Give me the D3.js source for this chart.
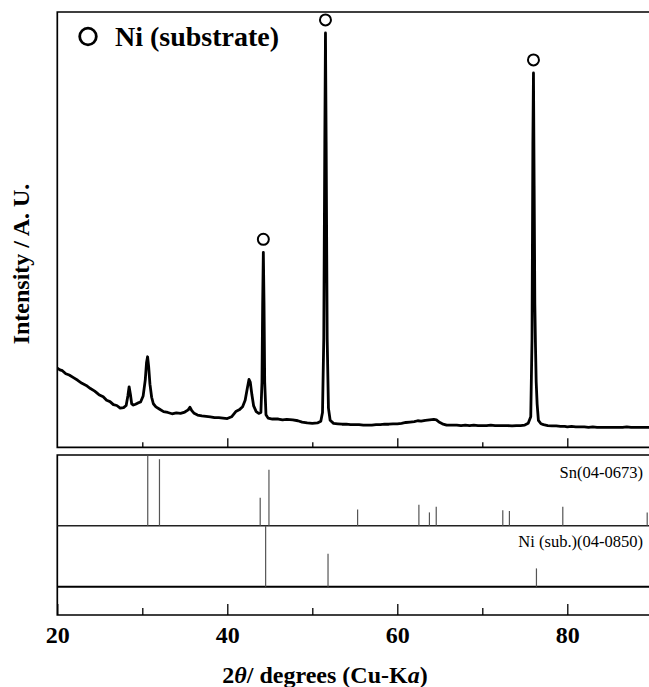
<!DOCTYPE html>
<html>
<head>
<meta charset="utf-8">
<script src="https://cdn.jsdelivr.net/npm/d3@7"></script>
<style>
    body { margin: 0; background: #fff; }
    svg { display: block; }
    .frame { fill: none; stroke: #000; stroke-width: 1.7; }
    .tick line { stroke: #000; stroke-width: 1.3; }
    .stick { stroke: #555; stroke-width: 1.2; }
</style>
</head>
<body>
<div id="chart"></div>
<script>

// measured XRD pattern (2theta in degrees, intensity in arbitrary units)
var twoTheta = [20.0, 20.3, 20.6, 21.0, 21.4, 21.9, 22.4, 22.9, 23.4, 23.9, 24.4, 24.9, 25.4, 25.8, 26.2, 26.6, 27.0, 27.4, 27.8,
    28.1, 28.3, 28.45, 28.6, 28.75, 28.95, 29.2, 29.5, 29.8, 30.1, 30.35, 30.5, 30.62, 30.75, 30.9, 31.1, 31.3, 31.6,
    32.0, 32.5, 33.0, 33.5, 34.0, 34.5, 35.0, 35.4, 35.6, 35.8, 36.1, 36.5, 37.0, 37.5, 38.0, 38.5, 39.0, 39.5, 40.0,
    40.5, 41.0, 41.4, 41.8, 42.1, 42.35, 42.55, 42.7, 42.9, 43.1, 43.4, 43.7, 43.95, 44.08, 44.16, 44.24, 44.32, 44.4,
    44.55, 44.8, 45.3, 46.0, 46.5, 47.0, 47.7, 48.3, 48.8, 49.4, 50.0, 50.6, 51.0, 51.2, 51.35, 51.47, 51.55, 51.63,
    51.75, 51.9, 52.1, 52.5, 53.0, 53.5, 54.0, 54.5, 55.0, 55.5, 56.0, 56.5, 57.0, 57.5, 58.0, 58.5, 59.0, 59.5, 60.0,
    60.5, 61.0, 61.5, 62.0, 62.4, 62.8, 63.3, 63.8, 64.3, 64.6, 64.9, 65.3, 65.8, 66.3, 67.0, 67.5, 68.0, 68.5, 69.0,
    69.5, 70.0, 70.5, 71.0, 71.5, 72.0, 72.5, 73.0, 73.5, 74.0, 74.5, 75.0, 75.4, 75.7, 75.85, 75.95, 76.02, 76.1,
    76.18, 76.26, 76.34, 76.45, 76.6, 76.9, 77.2, 77.7, 78.2, 78.7, 79.2, 79.7, 80.0, 80.5, 81.0, 81.5, 82.0, 82.5,
    83.0, 83.5, 84.0, 84.5, 85.0, 85.5, 86.0, 86.5, 87.0, 87.5, 88.0, 88.5, 89.0, 89.5, 90.0];
var intensity = [182, 178, 176, 169, 166, 160, 154, 147, 142, 135, 129, 121, 116, 108, 105, 98, 96, 90, 91,
    96, 118, 139, 122, 100, 97, 99, 102, 104, 118, 155, 195, 208, 185, 145, 115, 100, 93,
    88, 82, 80, 77, 79, 78, 81, 86, 92, 85, 78, 74, 72, 71, 70, 68, 68, 67, 66,
    70, 82, 86, 93, 108, 135, 156, 150, 120, 95, 82, 78, 80, 150, 330, 448, 330, 150,
    75, 67, 65, 65, 63, 64, 63, 61, 58, 56, 55, 56, 60, 80, 250, 700, 952, 700,
    250, 90, 62, 55, 54, 53, 53, 52, 52, 52, 51, 51, 51, 52, 52, 53, 53, 54, 54,
    55, 57, 58, 59, 61, 60, 62, 63, 64, 63, 58, 54, 51, 51, 51, 50, 51, 50, 51,
    50, 50, 50, 51, 50, 50, 50, 50, 49, 50, 50, 51, 55, 70, 250, 700, 860, 600,
    330, 230, 150, 100, 62, 54, 52, 50, 49, 49, 48, 48, 47, 48, 47, 47, 47, 46,
    47, 46, 46, 46, 46, 46, 46, 46, 47, 46, 46, 46, 46, 46, 46];

// Ni substrate peaks marked with circles
var niMarked = [44.24, 51.55, 76.02];

// reference cards
var snPos = [30.64, 32.02, 43.87, 44.90, 55.33, 62.54, 63.78, 64.58, 72.41, 73.19, 79.47, 89.40];
var snInt = [100, 95, 40, 80, 23, 30, 19, 27, 22, 21, 27, 19];
var niPos = [44.51, 51.85, 76.37];
var niInt = [100, 54, 30];

var majorTicks = [20, 40, 60, 80];
var minorTicks = [30, 50, 70];

var snLabel = "Sn(04-0673)";
var niLabel = "Ni (sub.)(04-0850)";
var legendLabel = "Ni (substrate)";
var yTitle = "Intensity / A. U.";

function drawChart() {

    var width = 649, height = 687;
    var left = 57.3, right = 652;
    var topY = 12, topBottom = 447.3;
    var refTop = 455, refMid = 525.7, refNi = 586.7, refBottom = 615;
    var font = "'Liberation Serif', 'Times New Roman', serif";

    var svg = d3.select('#chart').append('svg')
        .attr('width', width)
        .attr('height', height);

    var xScale = d3.scaleLinear().domain([20, 90]).range([left, left + 70 * 8.5]);
    var yScale = d3.scaleLinear().domain([0, 1000]).range([topBottom, topY]);
    var ySn = d3.scaleLinear().domain([0, 100]).range([refMid, refTop + 0.7]);
    var yNi = d3.scaleLinear().domain([0, 100]).range([refNi, refMid]);

    svg.append('clipPath').attr('id', 'clipTop')
        .append('rect')
        .attr('x', left).attr('y', topY)
        .attr('width', right - left).attr('height', topBottom - topY);

    // top panel frame (open at the right)
    svg.append('path')
        .attr('class', 'frame')
        .attr('d', 'M' + right + ',' + topY + 'H' + left + 'V' + topBottom + 'H' + right);

    // inner ticks of top panel
    svg.append('g')
        .attr('transform', 'translate(0,' + topBottom + ')')
        .call(d3.axisBottom(xScale).tickValues(majorTicks.slice(1)).tickSize(-9).tickFormat(''))
        .call(function (g) { g.select('.domain').remove(); });
    svg.append('g')
        .attr('transform', 'translate(0,' + topBottom + ')')
        .call(d3.axisBottom(xScale).tickValues(minorTicks).tickSize(-5).tickFormat(''))
        .call(function (g) { g.select('.domain').remove(); });

    // pattern
    var points = twoTheta.map(function (t, i) { return { x: t, y: intensity[i] }; });
    var line = d3.line()
        .x(function (d) { return xScale(d.x); })
        .y(function (d) { return yScale(d.y); });

    svg.append('path')
        .datum(points)
        .attr('clip-path', 'url(#clipTop)')
        .attr('d', line)
        .attr('fill', 'none')
        .attr('stroke', '#000')
        .attr('stroke-width', 2.8)
        .attr('stroke-linejoin', 'round');

    // circles over Ni peaks
    niMarked.forEach(function (p) {
        var near = points.filter(function (d) { return Math.abs(d.x - p) < 0.3; });
        var top = d3.max(near, function (d) { return d.y; });
        svg.append('circle')
            .attr('cx', xScale(p))
            .attr('cy', yScale(top) - 13)
            .attr('r', 5.5)
            .attr('fill', 'none')
            .attr('stroke', '#000')
            .attr('stroke-width', 2);
    });

    // legend
    svg.append('circle')
        .attr('cx', 88).attr('cy', 36.5).attr('r', 8.3)
        .attr('fill', 'none').attr('stroke', '#000').attr('stroke-width', 2.8);
    svg.append('text')
        .attr('x', 115).attr('y', 46)
        .style('font-family', font).style('font-weight', 'bold').style('font-size', '28px')
        .text(legendLabel);

    // reference panel frame
    svg.append('path')
        .attr('class', 'frame')
        .attr('d', 'M' + right + ',' + refTop + 'H' + left + 'V' + refBottom + 'H' + right);
    svg.append('line')
        .attr('x1', left).attr('x2', right).attr('y1', refMid).attr('y2', refMid)
        .attr('stroke', '#222').attr('stroke-width', 1.4);
    svg.append('line')
        .attr('x1', left).attr('x2', right).attr('y1', refNi).attr('y2', refNi)
        .attr('stroke', '#000').attr('stroke-width', 2);

    svg.append('g').selectAll('line')
        .data(snPos)
        .enter().append('line')
        .attr('class', 'stick')
        .attr('x1', function (d) { return xScale(d); })
        .attr('x2', function (d) { return xScale(d); })
        .attr('y1', refMid)
        .attr('y2', function (d, i) { return ySn(snInt[i]); });

    svg.append('g').selectAll('line')
        .data(niPos)
        .enter().append('line')
        .attr('class', 'stick')
        .attr('x1', function (d) { return xScale(d); })
        .attr('x2', function (d) { return xScale(d); })
        .attr('y1', refNi)
        .attr('y2', function (d, i) { return yNi(niInt[i]); });

    svg.append('text')
        .attr('x', 643).attr('y', 478).attr('text-anchor', 'end')
        .style('font-family', font).style('font-size', '16.5px')
        .text(snLabel);
    svg.append('text')
        .attr('x', 643).attr('y', 547).attr('text-anchor', 'end')
        .style('font-family', font).style('font-size', '16.5px')
        .text(niLabel);

    // bottom axis: labelled major ticks, then minor ticks
    var xAxis = svg.append('g')
        .attr('transform', 'translate(0,' + refBottom + ')')
        .call(d3.axisBottom(xScale).tickValues(majorTicks).tickSize(-11).tickPadding(11));
    xAxis.select('.domain').remove();
    xAxis.selectAll('text')
        .style('font-family', font).style('font-weight', 'bold').style('font-size', '24px')
        .attr('fill', '#000');

    svg.append('g')
        .attr('transform', 'translate(0,' + refBottom + ')')
        .call(d3.axisBottom(xScale).tickValues(minorTicks).tickSize(-7).tickFormat(''))
        .call(function (g) { g.select('.domain').remove(); });

    // axis titles
    var xt = svg.append('text')
        .attr('x', 325).attr('y', 682.5).attr('text-anchor', 'middle')
        .style('font-family', font).style('font-weight', 'bold').style('font-size', '24px');
    xt.append('tspan').text('2');
    xt.append('tspan').style('font-style', 'italic').text('\u03b8');
    xt.append('tspan').text('/ degrees (Cu-K');
    xt.append('tspan').style('font-style', 'italic').text('a');
    xt.append('tspan').text(')');

    svg.append('text')
        .attr('transform', 'translate(29,264) rotate(-90)')
        .attr('text-anchor', 'middle')
        .style('font-family', font).style('font-weight', 'bold').style('font-size', '24px')
        .text(yTitle);
}

drawChart();

</script>
</body>
</html>
